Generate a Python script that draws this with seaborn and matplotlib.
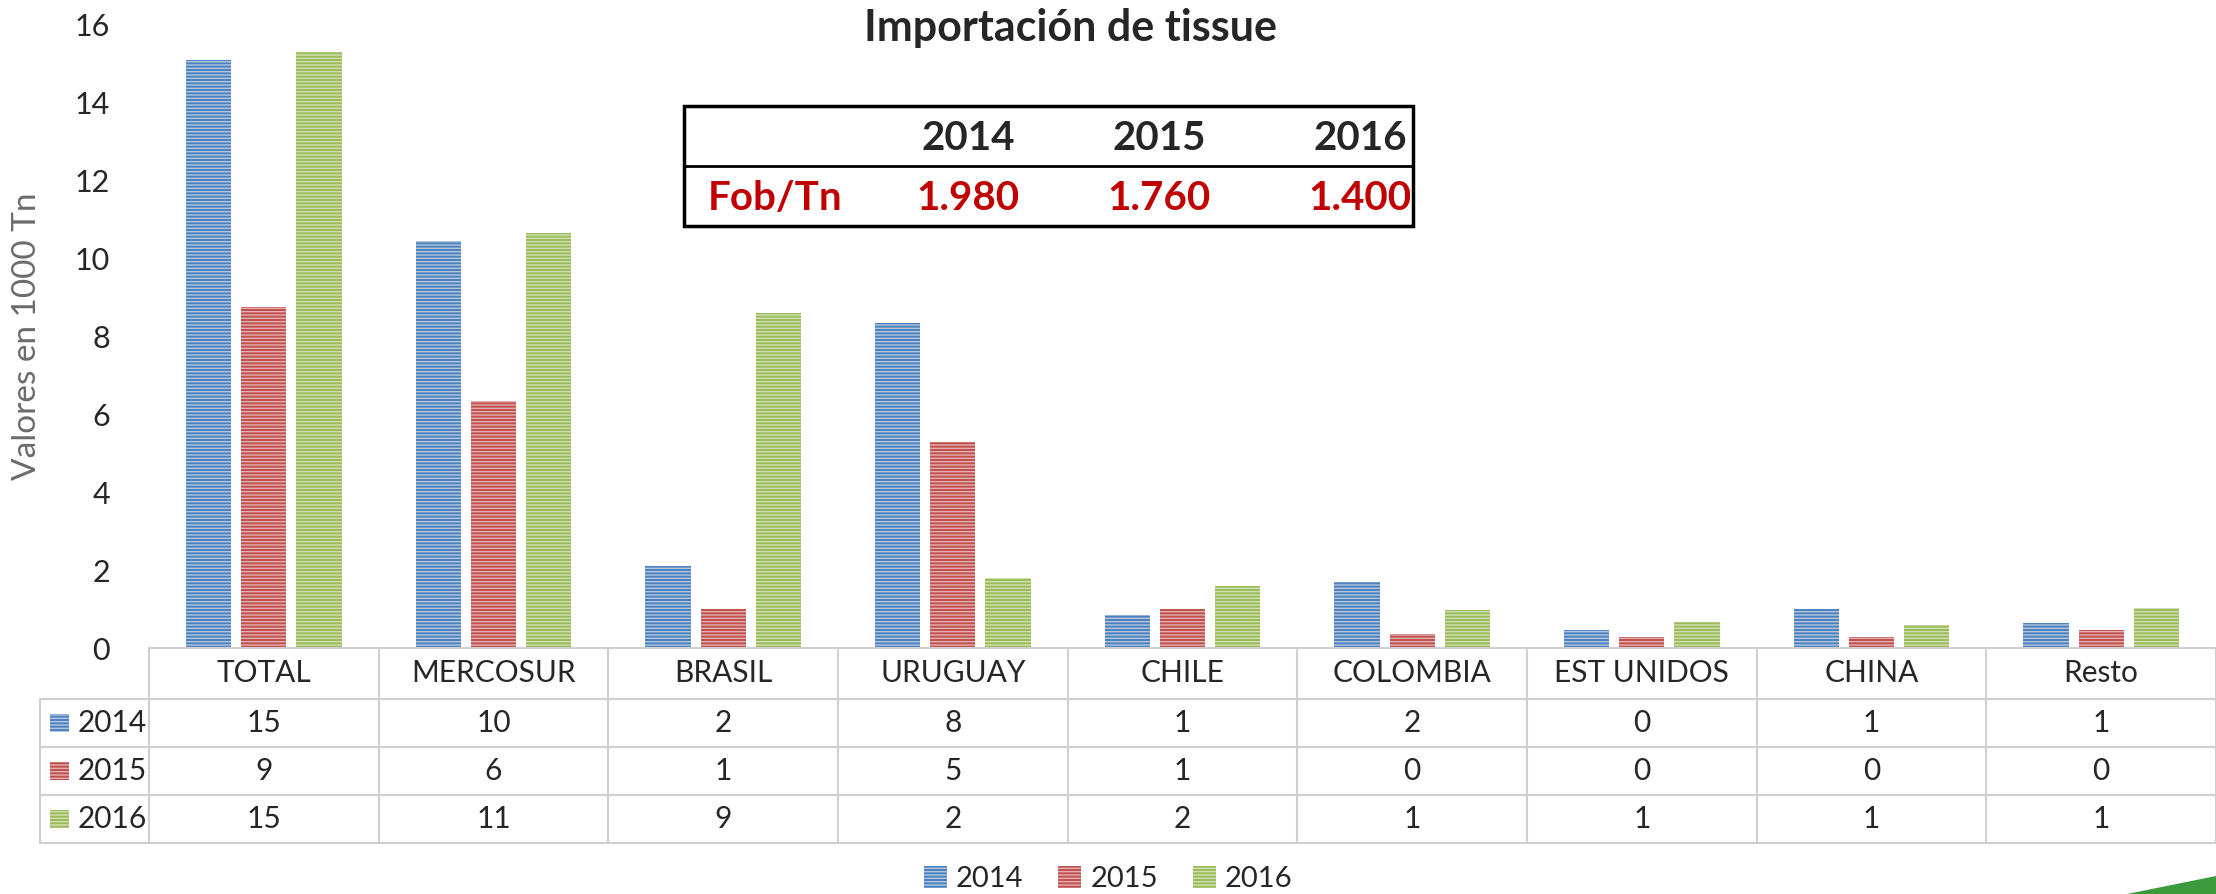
import numpy as np
import pandas as pd
import matplotlib.pyplot as plt
import seaborn as sns
from matplotlib.patches import Rectangle, Patch, Polygon
from matplotlib.transforms import blended_transform_factory

sns.set_style('white')
plt.rcParams['font.family'] = ['Lato', 'DejaVu Sans']
plt.rcParams['hatch.linewidth'] = 1.0

# datos (miles de toneladas)
paises = ['TOTAL', 'MERCOSUR', 'BRASIL', 'URUGUAY', 'CHILE', 'COLOMBIA', 'EST UNIDOS', 'CHINA', 'Resto']
anios = ['2014', '2015', '2016']
v2014 = [15.1, 10.45, 2.1, 8.35, 0.85, 1.7, 0.47, 1.0, 0.65]
v2015 = [8.75, 6.35, 1.0, 5.3, 1.0, 0.35, 0.28, 0.27, 0.45]
v2016 = [15.3, 10.65, 8.6, 1.8, 1.6, 0.98, 0.68, 0.58, 1.02]
colores = ['#4F81BD', '#C0504D', '#9BBB59']

fob_anios = ['2014', '2015', '2016']
fob_valores = ['1.980', '1.760', '1.400']

df = pd.DataFrame({
    'pais': paises * 3,
    'anio': np.repeat(anios, len(paises)),
    'valor': v2014 + v2015 + v2016,
})

W, H = 2216, 894
fig = plt.figure(figsize=(W / 100, H / 100), dpi=100)
ax = fig.add_axes([149 / W, 246 / H, 1 - 149 / W, 623 / H])

sns.barplot(data=df, x='pais', y='valor', hue='anio', palette=colores, saturation=1,
            width=0.72, gap=0.18, legend=False, ax=ax)

for bar in ax.patches:
    bar.set_hatch('-----')
    bar.set_edgecolor((1, 1, 1, 0.55))
    bar.set_linewidth(0)

ax.set_ylim(0, 16)
ax.set_xlim(-0.5, len(paises) - 0.5)
ax.set_yticks(range(0, 17, 2))
ax.tick_params(axis='y', labelsize=22, length=0, pad=28)
ax.set_xticks([])
ax.set_xlabel('')
ax.set_ylabel('Valores en 1000 Tn', fontsize=24, color='#6b6b6b')
ax.yaxis.set_label_coords(-0.052, 0.5)
for s in ['top', 'right', 'left']:
    ax.spines[s].set_visible(False)
ax.spines['bottom'].set_color('#d0d0d0')
ax.spines['bottom'].set_linewidth(1.5)

# tabla de datos bajo el eje
tr = blended_transform_factory(ax.transData, ax.transAxes)
px = 623.0
filas_y = [-(699 - 648) / px, -(747 - 648) / px, -(795 - 648) / px, -(843 - 648) / px]
x_izq = -0.5 - 109 / 230
linea = dict(color='#d0d0d0', lw=1.5, transform=tr, clip_on=False)
for yy in filas_y:
    ax.plot([x_izq, len(paises) - 0.5], [yy, yy], **linea)
for i in range(len(paises) + 1):
    ax.plot([i - 0.5, i - 0.5], [0, filas_y[-1]], **linea)
ax.plot([x_izq, x_izq], [filas_y[0], filas_y[-1]], **linea)

y_head = -25 / px
for i, p in enumerate(paises):
    ax.text(i, y_head, p, transform=tr, ha='center', va='center', fontsize=21.5)

serie_vals = [v2014, v2015, v2016]
for r, (anio, vals, c) in enumerate(zip(anios, serie_vals, colores)):
    yc = (filas_y[r] + filas_y[r + 1]) / 2
    for i, v in enumerate(vals):
        ax.text(i, yc, f'{v:.0f}', transform=tr, ha='center', va='center', fontsize=21.5)
    ax.add_patch(Rectangle((-0.5 - 99 / 230, yc - 9 / px), 19 / 230, 18 / px, transform=tr,
                           facecolor=c, edgecolor=(1, 1, 1, 0.55), lw=0, hatch='-----',
                           clip_on=False))
    ax.text(-0.5 - 71 / 230, yc, anio, transform=tr, ha='left', va='center', fontsize=21.5)

# titulo
fig.text(1070 / W, 1 - 28 / H, 'Importación de tissue', ha='center', va='center',
         fontsize=31, fontweight='bold')

# recuadro Fob/Tn
bx0, bx1, by0, bym, by1 = 684, 1413, 106, 166, 226
fig.patches.append(Rectangle((bx0 / W, 1 - by1 / H), (bx1 - bx0) / W, (by1 - by0) / H,
                             transform=fig.transFigure, facecolor='white', edgecolor='black',
                             lw=2.5, zorder=5))
fig.lines.append(plt.Line2D([bx0 / W, bx1 / W], [1 - bym / H, 1 - bym / H],
                            transform=fig.transFigure, color='black', lw=2, zorder=6))
col_x = [968, 1159, 1360]
for cx, a, v in zip(col_x, fob_anios, fob_valores):
    fig.text(cx / W, 1 - 139 / H, a, ha='center', va='center', fontsize=29,
             fontweight='bold', zorder=7)
    fig.text(cx / W, 1 - 198 / H, v, ha='center', va='center', fontsize=29,
             fontweight='bold', color='#C00000', zorder=7)
fig.text(775 / W, 1 - 198 / H, 'Fob/Tn', ha='center', va='center', fontsize=29,
         fontweight='bold', color='#C00000', zorder=7)

# leyenda
handles = [Patch(facecolor=c, edgecolor=(1, 1, 1, 0.55), lw=0, hatch='-----') for c in colores]
fig.legend(handles, anios, loc='center', bbox_to_anchor=(1108 / W, 1 - 879 / H), ncol=3,
           frameon=False, fontsize=21, handlelength=0.8, handleheight=0.8,
           handletextpad=0.3, columnspacing=1.2)

# detalle verde abajo a la derecha
fig.patches.append(Polygon([(2127 / W, 0), (1.0, 18 / H), (1.0, 0)], closed=True,
                           transform=fig.transFigure, facecolor='#3a9a3c', lw=0))

fig.savefig('out.png', dpi=100)
